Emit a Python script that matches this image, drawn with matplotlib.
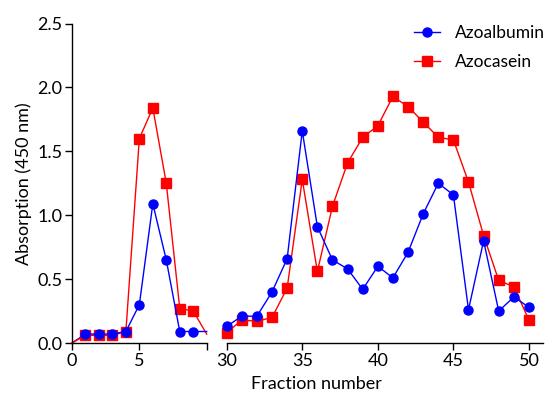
import matplotlib
matplotlib.use("Agg")
import matplotlib.pyplot as plt

plt.rcParams['font.family'] = ['Lato', 'DejaVu Sans']

# left segment (fractions 1-10)
frac_left = [1, 2, 3, 4, 5, 6, 7, 8, 9, 10]
albumin_left = [0.07, 0.07, 0.07, 0.09, 0.30, 1.09, 0.65, 0.09, 0.09, 0.09]
casein_left = [0.06, 0.06, 0.06, 0.09, 1.60, 1.84, 1.25, 0.27, 0.25, 0.07]

# right segment (fractions 30-50)
frac_right = list(range(30, 51))
albumin_right = [0.13, 0.21, 0.21, 0.40, 0.66, 1.66, 0.91, 0.65, 0.58, 0.42, 0.60,
                 0.51, 0.71, 1.01, 1.25, 1.16, 0.26, 0.80, 0.25, 0.36, 0.28]
casein_right = [0.08, 0.18, 0.17, 0.20, 0.43, 1.28, 0.56, 1.07, 1.41, 1.61, 1.70,
                1.93, 1.85, 1.73, 1.61, 1.59, 1.26, 0.84, 0.49, 0.44, 0.18]

BLUE = "#0000ff"
RED = "#ff0000"
FS = 13

fig = plt.figure(figsize=(5.52, 3.96), dpi=100)
bottom = 53 / 396
height = (343 - 23.6) / 396
ax1 = fig.add_axes([72 / 552, bottom, (206.7 - 72) / 552, height])
ax2 = fig.add_axes([226.7 / 552, bottom, (543 - 226.7) / 552, height])

sty_a = dict(color=BLUE, marker="o", markersize=6.5, linewidth=1, clip_on=False)
sty_c = dict(color=RED, marker="s", markersize=6.5, linewidth=1, clip_on=False)
last = list(range(len(frac_left) - 1))

ax1.plot(frac_left, casein_left, markevery=last, zorder=2, **sty_c)
ax1.plot(frac_left, albumin_left, markevery=last, zorder=3, **sty_a)
ax2.plot(frac_right, casein_right, zorder=2, label="Azocasein", **sty_c)
ax2.plot(frac_right, albumin_right, zorder=3, label="Azoalbumin", **sty_a)
# line from origin like the reference
ax1.plot([0, 1], [0, albumin_left[0]], color=BLUE, linewidth=1, clip_on=False)
ax1.plot([0, 1], [0, casein_left[0]], color=RED, linewidth=1, clip_on=False)

ax1.set_xlim(0, 10)
ax1.set_ylim(0, 2.5)
ax1.set_xticks([0, 5, 10])
ax1.set_xticklabels(["0", "5", ""])
ax1.set_yticks([0, 0.5, 1.0, 1.5, 2.0, 2.5])
ax1.set_yticklabels(["0.0", "0.5", "1.0", "1.5", "2.0", "2.5"])
ax1.set_ylabel("Absorption (450 nm)", fontsize=FS)

ax2.set_xlim(30, 50.93)
ax2.set_ylim(0, 2.5)
ax2.set_xticks([30, 35, 40, 45, 50])
ax2.set_yticks([])

for ax in (ax1, ax2):
    ax.spines['top'].set_visible(False)
    ax.spines['right'].set_visible(False)
    ax.tick_params(direction="out", length=5, width=1, labelsize=FS, pad=2)
    for s in ax.spines.values():
        s.set_linewidth(1)
ax2.spines['left'].set_visible(False)

h, l = ax2.get_legend_handles_labels()
fig.legend(h[::-1], l[::-1], loc="upper left", bbox_to_anchor=(398 / 552, 1 - 9 / 396),
           frameon=False, fontsize=12.5, handlelength=1.5, handletextpad=0.9,
           labelspacing=0.75)

fig.text(316 / 552, 12 / 396, "Fraction number", ha="center", va="center", fontsize=FS)

fig.savefig("out.png", dpi=100)
